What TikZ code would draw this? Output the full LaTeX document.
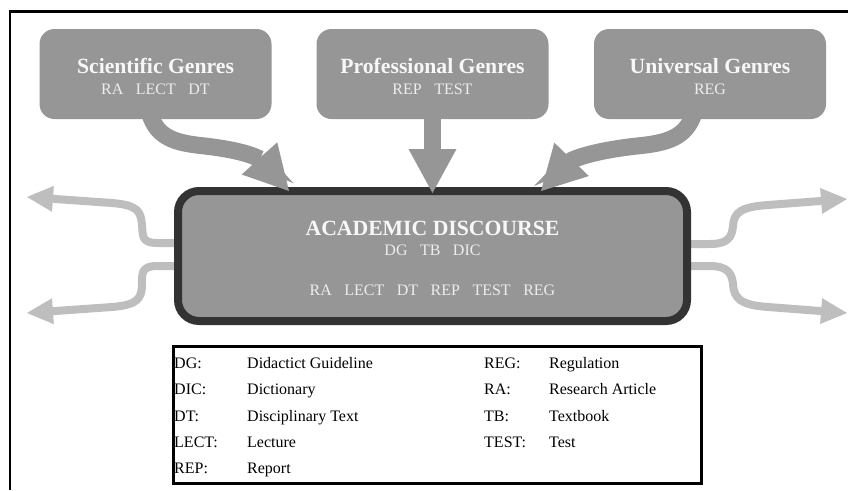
\documentclass[tikz,border=0pt]{standalone}
\usepackage{fontspec}
\setmainfont{Liberation Serif}
\usetikzlibrary{arrows.meta}
\definecolor{boxgray}{HTML}{969696}
\definecolor{rimdark}{HTML}{333333}
\definecolor{flowgray}{HTML}{BEBEBE}
\definecolor{labelwhite}{HTML}{F7F7F7}
\definecolor{codewhite}{HTML}{EDEDED}
% gap between genre codes
\newcommand\abgap{\hspace{0.78em}}

\begin{document}
\begin{tikzpicture}[x=1pt,y=-1pt,
  genre/.style={fill=boxgray,rounded corners=15pt,minimum width=232pt,
    minimum height=90pt,inner sep=0pt,outer sep=0pt},
  hub/.style={draw=rimdark,fill=boxgray,line width=8pt,rounded corners=21pt,
    minimum width=509pt,minimum height=130pt,inner sep=0pt,outer sep=0pt},
  ttl/.style={anchor=base,text=labelwhite,inner sep=0pt,
    font=\fontsize{21.7}{26}\selectfont\bfseries},
  codes/.style={anchor=base,text=codewhite,inner sep=0pt,
    font=\fontsize{16}{19}\selectfont},
  feed/.style={draw=boxgray,line width=17pt,
    -{Triangle[length=44pt,width=48pt,line width=0pt]}},
  spread/.style={draw=flowgray,line width=8pt,
    -{Triangle[length=26pt,width=26pt,line width=0pt]}},
  legendbox/.style={draw,line width=3pt,minimum width=528pt,minimum height=137pt,
    inner sep=0pt,outer sep=0pt},
  key/.style={anchor=base west,inner sep=0pt,font=\fontsize{16}{19}\selectfont},
]
\useasboundingbox (0,0) rectangle (848,490);

% frame
\draw[line width=2.6pt] (10,490) -- (10,11.3) -- (848,11.3);

% outgoing flows (drawn first, their roots hidden by the hub)
\node[hub,draw=none,fill=none] (hubpos) at (432.5,256) {};
\coordinate (ul) at (27,197);
\coordinate (ll) at (27,313);
\coordinate (ur) at (847,199);
\coordinate (lr) at (847,313);
\draw[spread] ([xshift=10pt,yshift=13pt]hubpos.west) -- (157,243)
  .. controls (141,243) and (143,235) .. (142,225)
  .. controls (141,211) and (137,205) .. (112,203) -- (ul);
\draw[spread] ([xshift=10pt,yshift=-10pt]hubpos.west) -- (157,266)
  .. controls (141,266) and (142,274) .. (142,284)
  .. controls (142,299) and (137,305) .. (112,307) -- (ll);
\draw[spread] ([xshift=-10pt,yshift=12pt]hubpos.east) -- (710,244)
  .. controls (728,244) and (732,237) .. (733,226)
  .. controls (734,212) and (741,207) .. (768,205) -- (ur);
\draw[spread] ([xshift=-10pt,yshift=-10pt]hubpos.east) -- (710,266)
  .. controls (728,266) and (732,274) .. (733,284)
  .. controls (734,299) and (741,305) .. (768,307) -- (lr);

% central hub
\node[hub] (acad) at (432.5,256) {};
\node[ttl] (acadt) at ([yshift=21pt]acad.center) {ACADEMIC DISCOURSE};
\node[codes] (acadc) at ([yshift=0.5pt]acad.center) {DG\abgap TB\abgap DIC};
\node[codes] (acadall) at ([yshift=-39pt]acad.center)
  {RA\abgap LECT\abgap DT\abgap REP\abgap TEST\abgap REG};

% genre sources feeding the hub
\coordinate (sci0) at (155.5,74);
\coordinate (pro0) at (432.5,74);
\coordinate (uni0) at (710,74);
\draw[feed] ([xshift=-6pt,yshift=-39pt]sci0)
  .. controls (157,138) and (175,143) .. (205,146)
  .. controls (230,149) and (248,153) .. (260,159)
  -- ([xshift=-143.5pt]acad.north);
\draw[feed] ([yshift=-39pt]pro0) -- ([yshift=-2pt]acad.north);
\draw[feed] ([xshift=-16pt,yshift=-39pt]uni0)
  .. controls (686,138) and (667,143) .. (637,146)
  .. controls (610,149) and (585,154) .. (570,161)
  -- ([xshift=108.5pt]acad.north);

\node[genre] (sci) at (sci0) {};
\node[genre] (pro) at (pro0) {};
\node[genre] (uni) at (uni0) {};
\node[ttl] (scit) at ([yshift=1pt]sci.center) {Scientific Genres};
\node[codes] (scic) at ([yshift=-20.3pt]sci.center) {RA\abgap LECT\abgap DT};
\node[ttl] (prot) at ([yshift=1pt]pro.center) {Professional Genres};
\node[codes] (proc) at ([yshift=-20.3pt]pro.center) {REP\abgap TEST};
\node[ttl] (unit) at ([yshift=1pt]uni.center) {Universal Genres};
\node[codes] (unic) at ([yshift=-20.3pt]uni.center) {REG};

% legend
\node[legendbox] (legend) at (437,415) {};
\foreach \ab/\full/\row in {DG:/Didactict Guideline/0, DIC:/Dictionary/1,
    DT:/Disciplinary Text/2, LECT:/Lecture/3, REP:/Report/4}{
  \node[key] (la\row) at (174,368.6+26.2*\row) {\ab};
  \node[key] (lf\row) at (247,368.6+26.2*\row) {\full};
}
\foreach \ab/\full/\row in {REG:/Regulation/0, RA:/Research Article/1,
    TB:/Textbook/2, TEST:/Test/3}{
  \node[key] (ra\row) at (484,368.6+26.2*\row) {\ab};
  \node[key] (rf\row) at (549,368.6+26.2*\row) {\full};
}
\end{tikzpicture}
\end{document}
